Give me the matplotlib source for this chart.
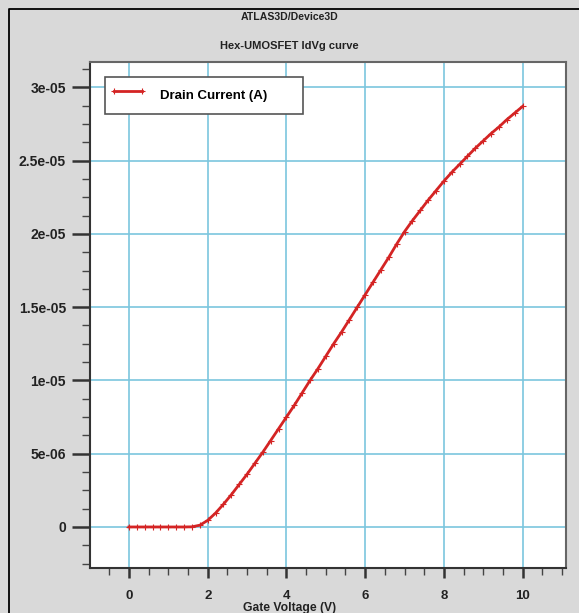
import matplotlib
matplotlib.use("Agg")
import matplotlib.pyplot as plt
from matplotlib.lines import Line2D
from matplotlib.ticker import MultipleLocator, FixedLocator, FixedFormatter

plt.rcParams['font.family'] = ['Liberation Sans', 'DejaVu Sans']
plt.rcParams['font.weight'] = 'bold'

# Gate sweep (V) and drain current (A)
gate_voltage = [0.0, 0.2, 0.4, 0.6, 0.8, 1.0, 1.2, 1.4, 1.6, 1.8,
                2.0, 2.2, 2.4, 2.6, 2.8, 3.0, 3.2, 3.4, 3.6, 3.8,
                4.0, 4.2, 4.4, 4.6, 4.8, 5.0, 5.2, 5.4, 5.6, 5.8,
                6.0, 6.2, 6.4, 6.6, 6.8, 7.0, 7.2, 7.4, 7.6, 7.8,
                8.0, 8.2, 8.4, 8.6, 8.8, 9.0, 9.2, 9.4, 9.6, 9.8, 10.0]
drain_current_uA = [0.0, 0.0, 0.0, 0.0, 0.0, 0.0, 0.0, 0.0, 0.01, 0.12,
                    0.45, 0.95, 1.55, 2.2, 2.9, 3.6, 4.35, 5.1, 5.9, 6.7,
                    7.5, 8.3, 9.15, 10.0, 10.8, 11.65, 12.5, 13.3, 14.15, 15.0,
                    15.85, 16.7, 17.55, 18.4, 19.3, 20.15, 20.9, 21.6, 22.3, 22.95,
                    23.6, 24.2, 24.75, 25.3, 25.85, 26.35, 26.85, 27.3, 27.8, 28.25, 28.7]
drain_current = [v * 1e-6 for v in drain_current_uA]

y_tick_values = [0.0, 5e-6, 1e-5, 1.5e-5, 2e-5, 2.5e-5, 3e-5]
y_tick_labels = ["0", "5e-06", "1e-05", "1.5e-05", "2e-05", "2.5e-05", "3e-05"]
x_tick_values = [0, 2, 4, 6, 8, 10]
x_tick_labels = ["0", "2", "4", "6", "8", "10"]

W, H = 579, 613
fig = plt.figure(figsize=(W / 100, H / 100), dpi=100, facecolor='#d9d9d9')
ax = fig.add_axes([90 / W, 1 - 568 / H, 475.5 / W, 506.3 / H])
ax.set_facecolor('white')

line, = ax.plot(gate_voltage, drain_current, color='#d42424', lw=2.0,
                marker='+', ms=4, mew=0.8, label='Drain Current (A)', zorder=3)

ax.set_xlim(-0.99, 11.09)
ax.set_ylim(-2.8e-6, 31.75e-6)

ax.xaxis.set_major_locator(FixedLocator(x_tick_values))
ax.xaxis.set_major_formatter(FixedFormatter(x_tick_labels))
ax.xaxis.set_minor_locator(MultipleLocator(0.5))
ax.yaxis.set_major_locator(FixedLocator(y_tick_values))
ax.yaxis.set_major_formatter(FixedFormatter(y_tick_labels))
ax.yaxis.set_minor_locator(MultipleLocator(1.25e-6))

ax.grid(True, which='major', color='#7cc6de', lw=1.2)
ax.set_axisbelow(True)

ax.tick_params(axis='x', which='major', direction='out', length=7.2, width=1.8,
               color='#333333', pad=8.5, labelsize=9.5)
ax.tick_params(axis='x', which='minor', direction='out', length=5, width=1.0, color='#444444')
ax.tick_params(axis='y', which='major', direction='out', length=13, width=1.8,
               color='#333333', pad=4.3, labelsize=10)
ax.tick_params(axis='y', which='minor', direction='out', length=5.8, width=1.0, color='#444444')
for lab in ax.get_xticklabels() + ax.get_yticklabels():
    lab.set_fontweight('bold')
    lab.set_color('#222222')

for s in ax.spines.values():
    s.set_color('#666666')
    s.set_linewidth(1.5)
ax.spines['left'].set_color('#333333')
ax.spines['bottom'].set_color('#333333')

leg = ax.legend(loc='upper left',
                bbox_to_anchor=(105 / W, 1 - 76.7 / H, 198 / W, 0.0),
                bbox_transform=fig.transFigure, mode='expand',
                borderaxespad=0, borderpad=0.4, handleheight=2.7,
                handlelength=2.7, handletextpad=1.1, numpoints=2,
                fancybox=False, framealpha=1, edgecolor='#555555',
                prop={'weight': 'bold', 'size': 9.5})
leg.get_frame().set_linewidth(1.2)

fig.text(0.5, 1 - 17 / H, 'ATLAS3D/Device3D', ha='center', va='center',
         fontsize=7.6, fontweight='bold', color='#222222')
fig.text(0.5, 1 - 46 / H, 'Hex-UMOSFET IdVg curve', ha='center', va='center',
         fontsize=8, fontweight='bold', color='#222222')
fig.text(0.5, 1 - 608 / H, 'Gate Voltage (V)', ha='center', va='center',
         fontsize=8.7, fontweight='bold', color='#222222')

# outer frame edges (left and top)
fig.add_artist(Line2D([9 / W, 9 / W, 1.0], [0.0, 1 - 9 / H, 1 - 9 / H],
                      transform=fig.transFigure, color='black', lw=1.3))

fig.savefig('out.png', dpi=100, facecolor=fig.get_facecolor())
